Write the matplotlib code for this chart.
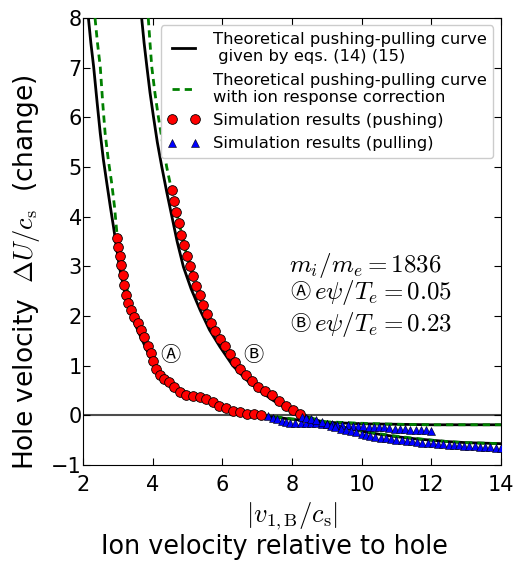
import numpy as np
import matplotlib
matplotlib.use("Agg")
import matplotlib.pyplot as plt

plt.rcParams['mathtext.fontset'] = 'cm'
plt.rcParams['font.family'] = ['DejaVu Sans', 'Noto Sans CJK JP']

# theoretical curves (A: e psi/Te=0.05, B: 0.23)
theoA_x = [2.15, 2.22, 2.30, 2.40, 2.49, 2.58, 2.68, 2.78, 2.87, 3.04, 3.20, 3.44, 3.64, 3.83, 4.07,
           4.40, 4.80, 5.30, 5.80, 6.30, 6.80, 7.30, 8.0, 9.0, 10.0, 11.0, 12.0, 13.0, 14.0]
theoA_y = [8.0, 7.5, 7.02, 6.3, 5.68, 5.15, 4.67, 4.2, 3.80, 2.99, 2.45, 1.92, 1.60, 1.31, 0.97,
           0.71, 0.50, 0.33, 0.20, 0.10, 0.03, -0.02, -0.08, -0.14, -0.17, -0.18, -0.19, -0.19, -0.19]

corrA_x = [2.34, 2.41, 2.49, 2.56, 2.63, 2.72, 2.82, 2.90, 2.97, 3.06, 3.20, 3.44, 3.64, 3.83, 4.07,
           4.40, 4.80, 5.30, 5.80, 6.30, 6.80, 7.30, 8.0, 9.0, 10.0, 11.0, 12.0, 13.0, 14.0]
corrA_y = [8.0, 7.5, 7.02, 6.3, 5.68, 5.15, 4.67, 4.2, 3.66, 3.2, 2.7, 2.05, 1.70, 1.40, 1.03,
           0.74, 0.52, 0.35, 0.21, 0.11, 0.04, -0.01, -0.07, -0.13, -0.16, -0.18, -0.19, -0.19, -0.19]

theoB_x = [3.68, 3.75, 3.83, 3.92, 4.02, 4.13, 4.26, 4.40, 4.55, 4.70, 4.88, 5.10, 5.36, 5.63, 5.93,
           6.30, 6.70, 7.10, 7.46, 8.04, 8.5, 9.0, 9.5, 10.0, 10.5, 11.0, 11.5, 12.0, 12.5, 13.0, 13.5, 14.0]
theoB_y = [8.0, 7.5, 7.02, 6.5, 6.01, 5.5, 5.0, 4.5, 4.0, 3.5, 2.99, 2.55, 2.12, 1.72, 1.38,
           1.0, 0.71, 0.48, 0.30, 0.07, -0.05, -0.16, -0.25, -0.32, -0.38, -0.43, -0.47, -0.50, -0.53, -0.55, -0.56, -0.57]

corrB_x = [3.87, 3.92, 3.97, 4.06, 4.16, 4.28, 4.40, 4.52, 4.64, 4.78, 4.95, 5.10, 5.36, 5.63, 5.93,
           6.30, 6.70, 7.10, 7.46, 8.04, 8.5, 9.0, 9.5, 10.0, 10.5, 11.0, 11.5, 12.0, 12.5, 13.0, 13.5, 14.0]
corrB_y = [8.0, 7.5, 7.02, 6.5, 6.01, 5.5, 5.0, 4.6, 4.2, 3.8, 3.3, 2.95, 2.35, 1.9, 1.5,
           1.1, 0.78, 0.52, 0.34, 0.09, -0.04, -0.15, -0.24, -0.31, -0.37, -0.42, -0.46, -0.50, -0.53, -0.55, -0.56, -0.57]

# simulation, pushing side (red circles)
pushA_x = [2.97, 3.00, 3.05, 3.10, 3.14, 3.18, 3.22, 3.30, 3.38, 3.47, 3.57, 3.66, 3.75, 3.85, 3.95,
           4.02, 4.10, 4.20, 4.33, 4.48, 4.62, 4.77, 4.95, 5.15, 5.36, 5.54, 5.72, 5.90, 6.10, 6.30,
           6.50, 6.70, 6.90, 7.10]
pushA_y = [3.57, 3.38, 3.20, 3.02, 2.82, 2.62, 2.43, 2.27, 2.12, 1.98, 1.85, 1.71, 1.57, 1.40, 1.25,
           1.10, 0.94, 0.81, 0.74, 0.67, 0.58, 0.48, 0.41, 0.38, 0.36, 0.32, 0.26, 0.19, 0.14, 0.09,
           0.06, 0.03, 0.02, 0.01]

pushB_x = [4.55, 4.61, 4.68, 4.75, 4.81, 4.89, 4.98, 5.07, 5.15, 5.24, 5.35, 5.45, 5.56, 5.67, 5.79,
           5.93, 6.07, 6.22, 6.36, 6.52, 6.69, 6.86, 7.03, 7.22, 7.42, 7.62, 7.82, 8.02, 8.22]
pushB_y = [4.54, 4.31, 4.10, 3.88, 3.64, 3.43, 3.21, 3.00, 2.81, 2.60, 2.42, 2.22, 2.04, 1.86, 1.70,
           1.53, 1.39, 1.23, 1.07, 0.94, 0.82, 0.70, 0.58, 0.49, 0.40, 0.29, 0.19, 0.10, 0.03]

# simulation, pulling side (blue triangles)
pullA_x = [7.32, 7.45, 7.58, 7.70, 7.82, 7.95, 8.10, 8.25, 8.40, 8.55, 8.70, 8.85, 9.00, 9.15, 9.30,
           9.45, 9.60, 9.75, 9.90, 10.05, 10.20, 10.35, 10.50, 10.65, 10.80, 10.95, 11.10, 11.25,
           11.40, 11.55, 11.70, 11.85, 12.00]
pullA_y = [-0.02, -0.05, -0.08, -0.11, -0.14, -0.15, -0.15, -0.15, -0.15, -0.15, -0.16, -0.17, -0.18,
           -0.18, -0.19, -0.20, -0.20, -0.21, -0.22, -0.22, -0.23, -0.23, -0.24, -0.24, -0.25, -0.27,
           -0.28, -0.28, -0.29, -0.29, -0.30, -0.30, -0.31]

pullB_x = [8.28, 8.40, 8.55, 8.70, 8.85, 9.00, 9.12, 9.25, 9.40, 9.55, 9.70, 9.85, 10.00, 10.12, 10.25,
           10.40, 10.55, 10.70, 10.85, 11.00, 11.15, 11.30, 11.45, 11.60, 11.75, 11.90, 12.05, 12.20,
           12.35, 12.50, 12.65, 12.80, 12.95, 13.10, 13.25, 13.40, 13.55, 13.70, 13.85, 14.00]
pullB_y = [-0.03, -0.05, -0.07, -0.10, -0.14, -0.18, -0.21, -0.23, -0.27, -0.30, -0.32, -0.34, -0.37,
           -0.39, -0.41, -0.43, -0.45, -0.46, -0.48, -0.49, -0.50, -0.51, -0.52, -0.53, -0.55, -0.55,
           -0.56, -0.57, -0.58, -0.59, -0.59, -0.60, -0.61, -0.61, -0.62, -0.63, -0.63, -0.64, -0.65, -0.65]

fig = plt.figure(figsize=(5.2, 5.65), dpi=100)
ax = fig.add_axes([0.16, 0.177, 0.803, 0.791])

ax.axhline(0, color='0.3', lw=1.5, zorder=1)

ax.plot(theoA_x, theoA_y, 'k-', lw=2, zorder=2,
        label='Theoretical pushing-pulling curve\n given by eqs. (14) (15)')
ax.plot(theoB_x, theoB_y, 'k-', lw=2, zorder=2)
ax.plot(corrA_x, corrA_y, '--', color='g', lw=2, dashes=(2.6, 1.8), zorder=3,
        label='Theoretical pushing-pulling curve\nwith ion response correction')
ax.plot(corrB_x, corrB_y, '--', color='g', lw=2, dashes=(2.6, 1.8), zorder=3)

ax.plot(pushA_x, pushA_y, 'o', color='r', mec='k', mew=0.6, ms=7, zorder=4,
        label='Simulation results (pushing)')
ax.plot(pushB_x, pushB_y, 'o', color='r', mec='k', mew=0.6, ms=7, zorder=4)
ax.plot(pullA_x, pullA_y, '^', color='b', mec='k', mew=0.4, ms=5.5, zorder=4,
        label='Simulation results (pulling)')
ax.plot(pullB_x, pullB_y, '^', color='b', mec='k', mew=0.4, ms=5.5, zorder=4)

ax.set_xlim(2, 14)
ax.set_ylim(-1, 8)
ax.set_xticks([2, 4, 6, 8, 10, 12, 14])
ax.set_yticks(range(-1, 9))
ax.tick_params(direction='in', top=True, right=True, length=5, labelsize=15)
ax.tick_params(axis='y', pad=1)
ax.tick_params(axis='x', pad=7)

ax.set_ylabel(r'Hole velocity  $\Delta U/c_{\rm s}$  (change)', fontsize=19)
ax.yaxis.set_label_coords(-0.098, 0.432)
ax.set_xlabel(r'$|v_{1,{\rm B}}/c_{\rm s}|$', fontsize=19, labelpad=4)
fig.text(0.527, 0.008, 'Ion velocity relative to hole', fontsize=18.4, ha='center', va='bottom')

circ = ['Noto Sans CJK JP', 'DejaVu Sans']
ax.text(4.5, 1.2, 'Ⓐ', fontsize=14.5, ha='center', va='center', family=circ)
ax.text(6.89, 1.2, 'Ⓑ', fontsize=14.5, ha='center', va='center', family=circ)
ax.text(7.9, 3.02, r'$m_i/m_e=1836$', fontsize=18, va='center')
ax.text(7.95, 2.48, 'Ⓐ', fontsize=14.5, va='center', family=circ)
ax.text(8.63, 2.48, r'$e\psi/T_e=0.05$', fontsize=18, va='center')
ax.text(7.95, 1.82, 'Ⓑ', fontsize=14.5, va='center', family=circ)
ax.text(8.63, 1.82, r'$e\psi/T_e=0.23$', fontsize=18, va='center')

ax.legend(loc='upper right', fontsize=11.8, numpoints=2, handlelength=2, framealpha=1,
          borderaxespad=0.45)

fig.savefig('out.png', dpi=100)
